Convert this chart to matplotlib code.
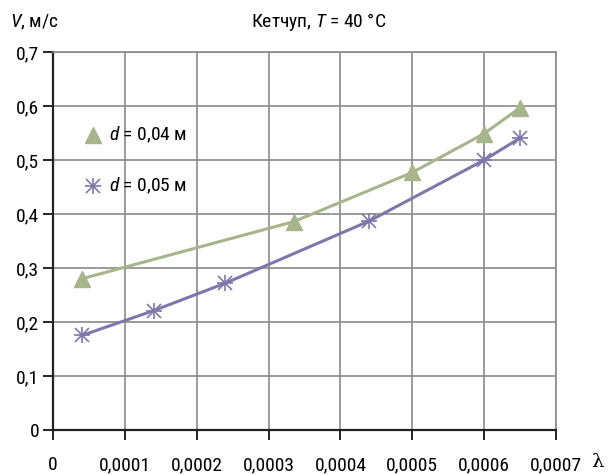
import matplotlib.pyplot as plt
from matplotlib import font_manager

# данные
x_d04 = [0.00004, 0.000335, 0.0005, 0.0006, 0.00065]
v_d04 = [0.28, 0.386, 0.477, 0.549, 0.597]
x_d05 = [0.00004, 0.00014, 0.00024, 0.00044, 0.0006, 0.00065]
v_d05 = [0.175, 0.221, 0.272, 0.387, 0.5, 0.541]

x_ticks = [0, 0.0001, 0.0002, 0.0003, 0.0004, 0.0005, 0.0006, 0.0007]
x_labels = ["0", "0,0001", "0,0002", "0,0003", "0,0004", "0,0005", "0,0006", "0,0007"]
y_ticks = [0, 0.1, 0.2, 0.3, 0.4, 0.5, 0.6, 0.7]
y_labels = ["0", "0,1", "0,2", "0,3", "0,4", "0,5", "0,6", "0,7"]

# узкий шрифт, если есть
names = {f.name for f in font_manager.fontManager.ttflist}
wanted = ['Liberation Sans Narrow', 'Roboto Condensed', 'PT Sans Narrow',
          'Fira Sans Condensed', 'Liberation Sans']
font = [n for n in wanted if n in names][0]
plt.rcParams['font.family'] = [font, 'DejaVu Sans']
plt.rcParams['mathtext.fontset'] = 'custom'
plt.rcParams['mathtext.it'] = font + ':italic'
plt.rcParams['mathtext.rm'] = font
plt.rcParams['font.size'] = 14

green = "#a6b58b"
purple = "#7d78ab"

fig = plt.figure(figsize=(6.13, 4.74), dpi=100)
ax = fig.add_axes([0.0865, 0.093, 0.8205, 0.797])

ax.plot(x_d04, v_d04, color=green, lw=2.2, marker="^", ms=11, zorder=3)
ax.plot(x_d05, v_d05, color=purple, lw=2.2, marker="x", ms=10, mew=1.2, zorder=3)
ax.plot(x_d05, v_d05, color=purple, lw=0, marker="+", ms=12, mew=1.2, zorder=3)

ax.set_xlim(0, 0.0007)
ax.set_ylim(0, 0.7)
ax.set_xticks(x_ticks)
ax.set_xticklabels(x_labels)
ax.set_yticks(y_ticks)
ax.set_yticklabels(y_labels)
ax.tick_params(axis='x', direction='out', length=7, width=1.2, pad=12)
ax.tick_params(axis='y', direction='out', length=7, width=1.2, pad=3)

ax.grid(True, color="#8a8a8a", lw=1.2)
ax.set_axisbelow(True)
for s in ["top", "right"]:
    ax.spines[s].set_color("#8a8a8a")
    ax.spines[s].set_linewidth(1.2)
for s in ["left", "bottom"]:
    ax.spines[s].set_color("#222222")
    ax.spines[s].set_linewidth(1.6)

# легенда вручную
ax.plot([0.000056], [0.546], color=green, lw=0, marker="^", ms=11)
ax.text(0.000078, 0.546, r"$\it{d}$ = 0,04 м", va="center", ha="left")
ax.plot([0.000056], [0.452], color=purple, lw=0, marker="x", ms=10, mew=1.2)
ax.plot([0.000056], [0.452], color=purple, lw=0, marker="+", ms=12, mew=1.2)
ax.text(0.000078, 0.452, r"$\it{d}$ = 0,05 м", va="center", ha="left")

fig.text(0.017, 0.953, r"$\it{V}$, м/с", va="center", ha="left")
fig.text(0.52, 0.953, r"Кетчуп, $\it{T}$ = 40 °C", va="center", ha="center")
fig.text(0.975, 0.025, "λ", va="center", ha="center", family="DejaVu Serif")

fig.savefig("out.png", dpi=100)
